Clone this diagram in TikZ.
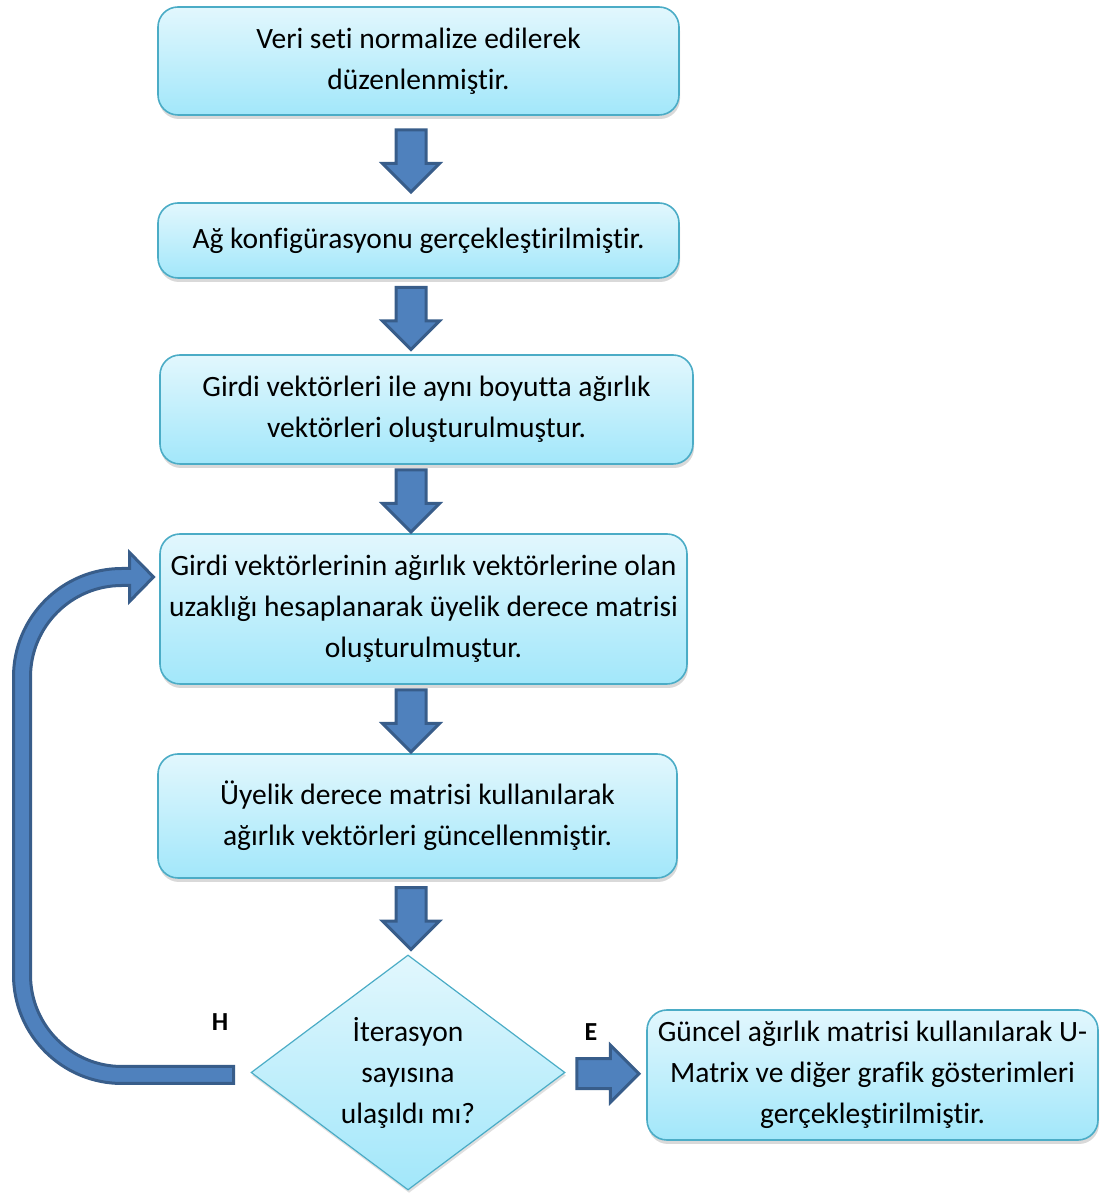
\documentclass[tikz,border=0pt]{standalone}
\usepackage{fontspec}
\setmainfont[Ligatures=NoCommon]{Carlito}
\usetikzlibrary{shapes,shapes.arrows,shapes.geometric,positioning,calc,shadows}

\definecolor{boxtop}{RGB}{226,247,253}
\definecolor{boxbot}{RGB}{162,231,250}
\definecolor{boxline}{RGB}{75,172,198}
\definecolor{arrfill}{RGB}{79,129,189}
\definecolor{arrline}{RGB}{56,93,138}

\begin{document}
\begin{tikzpicture}[x=1pt, y=1pt,
        stepbox/.style={rectangle, rounded corners=20pt, draw=boxline, line width=1.6pt,
            top color=boxtop, bottom color=boxbot, align=center, inner sep=0pt,
            font=\fontsize{29.5}{41}\selectfont,
            drop shadow={shadow xshift=1pt, shadow yshift=-4pt, opacity=0.3}},
        decision/.style={diamond, aspect=1.336, draw=boxline, line width=1.2pt,
            top color=boxtop, bottom color=boxbot, align=center, inner sep=0pt,
            minimum width=314pt, minimum height=235pt,
            font=\fontsize{29.5}{41}\selectfont,
            drop shadow={shadow xshift=1pt, shadow yshift=-3pt, opacity=0.25}},
        blockarrow/.style={single arrow, draw=arrline, fill=arrfill, line width=3pt,
            line join=miter, inner sep=13.5pt, minimum height=62pt,
            single arrow head extend=13.5pt, xshift=-5.5pt},
        answer/.style={font=\fontsize{26}{30}\selectfont\bfseries}
    ]
    \useasboundingbox (0,0) rectangle (1107,1193);

    % steps
    \node[stepbox, minimum width=521pt, minimum height=108pt] (veri) at (418.5,1132)
        {Veri seti normalize edilerek\\düzenlenmiştir.};
    \node[stepbox, minimum width=521pt, minimum height=75pt] (ag) at (418.5,952.5)
        {Ağ konfigürasyonu gerçekleştirilmiştir.};
    \node[stepbox, minimum width=533pt, minimum height=109pt] (agirlik) at (426.5,783.5)
        {Girdi vektörleri ile aynı boyutta ağırlık\\vektörleri oluşturulmuştur.};
    \node[stepbox, minimum width=527pt, minimum height=150pt] (uzaklik) at (423.5,584)
        {Girdi vektörlerinin ağırlık vektörlerine olan\\uzaklığı hesaplanarak üyelik derece matrisi\\oluşturulmuştur.};
    \node[stepbox, minimum width=519pt, minimum height=124pt] (guncel) at (417.5,377)
        {Üyelik derece matrisi kullanılarak\\ağırlık vektörleri güncellenmiştir.};
    \node[decision] (iter) at (408,120.5)
        {İterasyon\\sayısına\\ulaşıldı mı?};
    \node[stepbox, minimum width=451pt, minimum height=130pt] (umatrix) at (872.5,118)
        {Güncel ağırlık matrisi kullanılarak U-\\Matrix ve diğer grafik gösterimleri\\gerçekleştirilmiştir.};

    % block arrows
    \coordinate (ax) at (411,0);
    \foreach \a/\b in {veri/ag, ag/agirlik, agirlik/uzaklik, uzaklik/guncel, guncel/iter}
        \node[rotate=-90, blockarrow] (arr-\a) at ($(ax |- \a.south)!.5!(ax |- \b.north)$) {};
    \node[blockarrow] (arr-iter) at ($(iter.east)!.5!(umatrix.west)$) {};

    % loop back (H)
    \draw[draw=arrline, fill=arrfill, line width=3pt, line join=miter]
        (233.5,109.5) -- (122,109.5) arc[start angle=270, end angle=180, radius=108.5]
        -- (13.5,516) arc[start angle=180, end angle=90, radius=108.5]
        -- (129.5,624.5) -- (129.5,640.5) -- (153.5,616) -- (129.5,591.5) -- (129.5,607.5)
        -- (122,607.5) arc[start angle=90, end angle=180, radius=91.5]
        -- (30.5,218) arc[start angle=180, end angle=270, radius=91.5]
        -- (233.5,126.5) -- cycle;

    \node[answer] (hayir) at (220,171) {H};
    \node[answer] (evet) at (591,161) {E};
\end{tikzpicture}
\end{document}
